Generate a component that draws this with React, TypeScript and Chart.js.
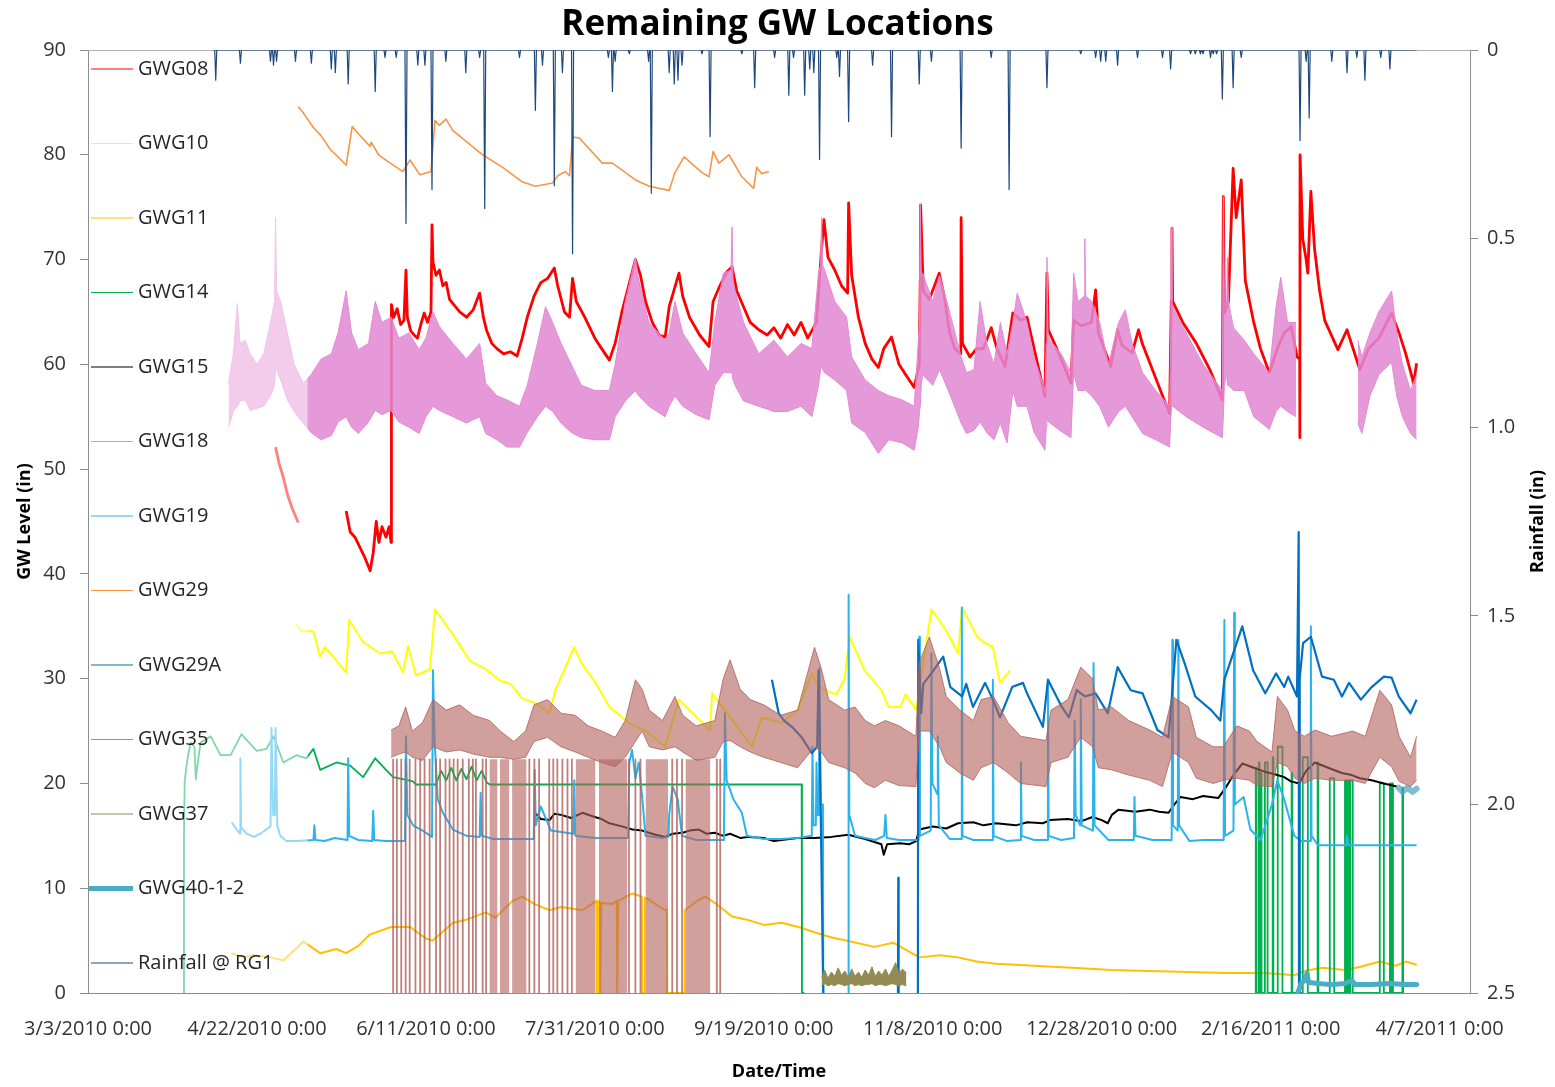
import React, { useEffect, useRef } from 'react';
import { Chart, registerables } from 'chart.js';

Chart.register(...registerables);

type Pt = [number, number | null];
type Band = [number, number | null, number | null];

const FONT = "'Open Sans', 'Liberation Sans', sans-serif";
const TITLE = 'Remaining GW Locations';
const Y_LEFT_TITLE = 'GW Level (in)';
const Y_RIGHT_TITLE = 'Rainfall (in)';
const X_TITLE = 'Date/Time';

// x values are days since 3/3/2010 0:00
const X_TICK_LABELS = [
  '3/3/2010 0:00', '4/22/2010 0:00', '6/11/2010 0:00', '7/31/2010 0:00', '9/19/2010 0:00',
  '11/8/2010 0:00', '12/28/2010 0:00', '2/16/2011 0:00', '4/7/2011 0:00',
];
const X_TICK_STEP_DAYS = 50;
const X_MAX_DAY = 409;
const Y_LEFT_MAX = 90;
const Y_LEFT_STEP = 10;
const Y_RIGHT_MAX = 2.5;
const Y_RIGHT_STEP = 0.5;

const SERIES_NAMES = [
  'GWG08', 'GWG10', 'GWG11', 'GWG14', 'GWG15', 'GWG18', 'GWG19',
  'GWG29', 'GWG29A', 'GWG35', 'GWG37', 'GWG40-1-2', 'Rainfall @ RG1',
];
const SERIES_COLORS = [
  '#FF0000', '#FFFF00', '#FFC000', '#00B050', '#000000', '#E48AD4', '#2DB3EC',
  '#F79646', '#0070C0', '#B5848C', '#948A54', '#4BACC6', '#1F497D',
];
const SERIES_WIDTHS = [1.2, 1.2, 1.2, 1.2, 1.2, 1.2, 1.2, 1.2, 1.2, 1.2, 1.2, 5, 1.2];

const GWG08: Pt[] = [
  [55.5, 52.1], [56.5, 50.6], [57.8, 49.2], [59, 47.6], [60.5, 46.2], [62.2, 44.9], [63, null],
  [76.4, 46], [77.6, 44], [79, 43.5], [80.5, 42.5], [82, 41.5], [83.5, 40.3], [84.4, 42], [85.3, 45], [86.1, 43],
  [87, 44.5], [88.2, 43.5], [89.1, 44.5], [89.7, 43], [89.8, 65.7], [90.5, 64.5], [91.5, 65.3], [92.5, 63.8],
  [93.5, 64.2], [94.1, 69], [94.5, 64.5], [95.5, 63.2], [96.5, 62.8], [97.5, 62.5], [98.5, 63.8], [99.5, 64.9],
  [100.5, 64], [101.5, 65], [101.8, 73.3], [102.1, 69.7], [103, 68.5], [104, 69], [105, 67.5], [106, 67.8],
  [107, 66.2], [108, 65.8], [110, 65], [112, 64.5], [114, 65.2], [115.9, 66.8], [117, 64.5], [118, 63.2],
  [119.5, 62], [121, 61.5], [123, 61], [125, 61.2], [127, 60.8], [128.5, 62.5], [130, 64.5], [132, 66.5],
  [134, 67.8], [136, 68.2], [138, 69.2], [139, 67.5], [141, 65], [142.5, 64.5], [143.4, 68.2], [144.5, 66],
  [147, 64.5], [150, 62.5], [152, 61.5], [154.3, 60.4], [156, 62], [158, 65], [160, 67.5], [162, 70],
  [163.5, 68.5], [165, 66], [167, 64], [169, 62.8], [170.8, 62.6], [172, 65.5], [174.9, 68.7], [176, 66.5],
  [178, 64.5], [181, 62.8], [183.8, 61.7], [185, 66], [187, 67.5], [189, 68.8], [190.6, 69.3], [192, 67],
  [194, 65.5], [196, 64], [198.5, 63.3], [201, 62.8], [203, 63.5], [205, 62.5], [207, 63.8], [209, 62.8],
  [211, 64], [213, 62.5], [215.6, 64], [217, 70.6], [217.8, 73.8], [219, 70.2], [221, 69], [223, 67.5],
  [224.8, 66.8], [225.1, 75.4], [226, 68.5], [228, 64.5], [230, 62], [232, 60.5], [233.9, 59.7], [235.5, 61.5],
  [237.8, 62.6], [240, 60], [242, 59], [244.5, 57.8], [246, 60], [246.3, 68], [246.4, 75.2], [247.2, 67],
  [249, 66.2], [251.9, 68.7], [253.4, 66.5], [255, 63], [256.5, 61.5], [258.3, 61], [258.4, 74], [258.8, 62],
  [261, 60.7], [263, 61.5], [265, 61.5], [267.3, 63.5], [269, 61.5], [271.4, 59.8], [273.7, 64.9], [276, 64.2],
  [277.9, 64.5], [280, 61.5], [283.2, 56.9], [283.8, 68.7], [284.2, 63.3], [286, 62], [288, 60.5], [290.9, 58.2],
  [291.7, 64.2], [294, 63.7], [297, 64], [298.2, 67.1], [299, 63], [302.7, 59.8], [304.7, 63.3], [306, 61.8],
  [309, 61.1], [310.9, 63.3], [312, 62], [315, 59.5], [318, 57], [320.1, 55.3], [320.6, 66.1], [320.8, 73],
  [321, 66], [324, 64], [328, 62], [332, 59.5], [335.7, 56.6], [336, 76], [336.3, 64.9], [337.5, 66],
  [338.9, 78.7], [339.8, 74], [341.3, 77.6], [342.5, 68], [345, 64], [347, 61.5], [349.6, 59.2], [352, 61.5],
  [354, 63], [356.1, 63.6], [357.8, 60.7], [358.6, 60.5], [358.65, 53], [358.7, 80], [359.5, 72], [360.5, 70],
  [361, 68.7], [361.9, 76.5], [363, 71], [364.5, 67], [366, 64.2], [369.9, 61.4], [372.6, 63.3], [376.4, 59.5],
  [379, 61.5], [382, 62.5], [385.8, 64.9], [388, 63], [390, 61], [392.3, 58.2], [393.2, 60.1],
];

const GWG10: Pt[] = [
  [61.7, 35.2], [63, 34.6], [66.7, 34.5], [68.7, 32.1], [70, 33], [72.6, 32.1], [74, 31.5], [76.4, 30.6],
  [77.3, 35.6], [81.4, 33.5], [86.4, 32.4], [90, 32.6], [93.2, 30.6], [94.7, 33.1], [97.1, 30.3], [101.2, 30.9],
  [102.7, 36.6], [108, 34.2], [113, 31.7], [117.7, 30.9], [122, 29.8], [125, 29.5], [128.6, 28.1], [132.2, 27.7],
  [136.6, 26.7], [138.3, 28.9], [143.9, 33], [146, 31.5], [150.2, 29.6], [154.3, 27.3], [160, 25.8], [166.1, 24.8],
  [170.8, 23.5], [174.9, 28], [180.8, 26.1], [184.1, 25.1], [184.7, 28.6], [190.6, 26.1], [196.5, 23.5],
  [199.4, 26.3], [205.3, 25.8], [210, 27], [214.2, 30.5], [216, 29.5], [218, 28.9], [221.5, 28.5], [223.9, 30],
  [225.4, 34], [229.8, 30.8], [234.8, 28.9], [236.9, 27.3], [240.4, 27.3], [242, 28.5], [245.1, 27], [246.5, 30],
  [249.6, 36.6], [254, 34.6], [257.5, 32.4], [258.7, 36.8], [263.1, 34], [265, 33.5], [267.8, 33], [269.9, 29.6],
  [272.9, 30.8],
];

const GWG11: Pt[] = [
  [42.5, 3.8], [46, 3.4], [49, 3.6], [54, 3.4], [57.8, 3.1], [63.7, 4.9], [68.7, 3.8], [73.5, 4.2], [76.4, 3.8],
  [80, 4.5], [83.5, 5.6], [89.7, 6.3], [95.3, 6.3], [100, 5.2], [102, 5], [108, 6.7], [112, 7], [117.7, 7.7],
  [120.6, 7.2], [125.7, 8.8], [128.6, 9.2], [132, 8.5], [136.6, 7.9], [140, 8.2], [146.3, 7.9], [150.5, 8.8],
  [150.6, 0], [150.8, 0], [150.9, 8.8], [151.5, 8.7], [151.6, 0], [151.8, 0], [151.9, 8.6], [155.2, 8.5],
  [156.5, 8.8], [156.6, 0], [156.8, 0], [156.9, 8.8], [161.1, 9.5], [163.9, 9.2], [164, 0], [164.7, 0],
  [164.8, 9.1], [165.5, 9], [170.8, 7.9], [171.3, 8], [171.4, 0], [176.5, 0], [176.6, 7.9], [180.8, 8.9],
  [182.6, 9.2], [186, 8.5], [190.6, 7.3], [195, 7], [200, 6.5], [205.3, 6.7], [210.3, 6.3], [215, 5.8],
  [220.1, 5.3], [226, 4.9], [232.7, 4.4], [238.3, 4.8], [246, 3.4], [252, 3.6], [257.5, 3.4], [263, 3],
  [268.7, 2.8], [280, 2.6], [291.4, 2.4], [302.9, 2.2], [314, 2.1], [325.7, 2], [337, 1.9], [348.4, 1.9],
  [357.2, 1.7], [360, 2.1], [365.2, 2.4], [372, 2.2], [376.7, 2.5], [382.3, 3], [387, 2.6], [390, 3], [393.2, 2.7],
];

const GWG14: Pt[] = [
  [28.3, 0], [28.4, 15], [28.6, 20.2], [29.5, 22.5], [30.4, 23.9], [31.5, 23.5], [31.9, 20.4], [32.3, 21.5],
  [33.3, 23.9], [36.3, 24.5], [39.2, 22.7], [42.2, 22.7], [45.4, 24.7], [49.9, 23.1], [52.8, 23.3], [54.9, 24.5],
  [57.8, 22], [61.7, 22.7], [64.6, 22.4], [66.7, 23.3], [68.7, 21.3], [73.5, 22], [77.6, 21.7], [81.4, 20.6],
  [85, 22.4], [88.2, 21.3], [90.3, 20.6], [96.2, 20.2], [97, 19.9], [102, 19.9], [103, 19.9], [104.5, 21.2],
  [106, 20.3], [107.5, 21.5], [109, 20.3], [110.5, 21.4], [112, 20.4], [113.5, 21.6], [115, 20.3], [116.5, 21.2],
  [118, 20.1], [118.9, 19.9], [150, 19.9], [180, 19.9], [211.2, 19.9], [211.3, 0], [212, 0], [213, null],
];
// [start day, end day, level] periods of GWG14 readings after the gauge returned
const GWG14_PULSES: [number, number, number][] = [
  [345.6, 345.8, 21.5], [346.5, 346.7, 22], [347.1, 347.3, 21], [348.3, 349.1, 22], [350.6, 350.8, 22.5],
  [352.1, 353.5, 23.5], [356.2, 356.4, 21], [359.5, 361, 22.5], [363.9, 364.1, 22], [367.5, 368.8, 20.5],
  [372, 372.3, 20.3], [372.8, 373.1, 20.3], [373.6, 374.3, 20.3], [382.3, 383.5, 20], [385.3, 385.6, 20],
  [385.9, 386.2, 20], [389, 389.2, 19.6],
];

const GWG15: Pt[] = [
  [132.2, 17.2], [134, 16.6], [136.6, 16.5], [138, 17.1], [140, 17], [143, 16.7], [146.3, 17.2], [150, 16.8],
  [152, 16.6], [154.3, 16.2], [158, 15.9], [161.1, 15.6], [164, 15.5], [166, 15.3], [168, 15.1], [170.8, 14.9],
  [173, 15.2], [176, 15.3], [178, 15.5], [180.8, 15.6], [183, 15.2], [185.5, 15.3], [188, 15], [190, 15.2],
  [193, 14.8], [195.6, 14.9], [200, 14.8], [203, 14.5], [205.3, 14.6], [210, 14.8], [215, 14.8], [220, 14.9],
  [225, 15.1], [230, 14.7], [234.8, 14.2], [235.5, 13.2], [236.5, 14.2], [240.4, 14.3], [243, 14.2],
  [245.1, 14.5], [246, 15.6], [250, 15.9], [254, 15.7], [257.5, 16.2], [262, 16.3], [265, 16], [268.7, 16.2],
  [274.6, 16], [278, 16.3], [282.6, 16.2], [284.7, 16.5], [290, 16.6], [294, 16.4], [297.3, 16.8], [300, 16.5],
  [301.8, 16.2], [303, 17], [305, 17.5], [310, 17.3], [314.2, 17.5], [317, 17.3], [319.8, 17.2], [321.5, 18],
  [323.3, 18.7], [327, 18.5], [330, 18.8], [334.5, 18.6], [336.9, 19.7], [339, 20.8], [341.6, 21.9],
  [345, 21.5], [348.4, 21.1], [351, 20.9], [354, 20.6], [356, 20.2], [358.4, 20], [360.5, 21.2], [363.1, 22],
  [367, 21.5], [371.1, 21], [374, 20.8], [376.4, 20.5], [379.9, 20.3], [383.5, 20], [387.3, 19.7],
];

// [day, band top, band bottom]
const GWG18: Band[] = [
  [41.6, 58.2, 54], [43, 61, 55.5], [44.2, 65.8, 56], [45, 62, 56.5], [46.5, 62.3, 56.6], [48, 61, 55.6],
  [50, 60, 55.8], [52, 61, 56], [54, 64, 57], [55.2, 66, 58], [55.5, 74, 59.8], [55.8, 67, 59.5], [57, 66, 58.5],
  [59, 63, 56.6], [61, 60, 55.5], [63.7, 58.2, 54.4], [66, 59, 53.5], [69, 60.5, 52.8], [72, 61, 53.2],
  [74, 63, 54.5], [76.4, 67, 55], [78, 63, 54], [80, 61.4, 53.4], [83, 62, 54.5], [85, 66, 55.6], [87, 64, 55.2],
  [89.7, 64.5, 55.6], [92, 62.5, 54.5], [95, 63, 54], [98, 61.4, 53.4], [100, 62.5, 55], [102.1, 65, 56],
  [104, 63.6, 55.6], [108, 62, 55], [112, 60.5, 54.4], [115.9, 62, 55], [117.7, 58.2, 53.4], [121, 57, 52.8],
  [124, 56.6, 52.1], [127.7, 56, 52.1], [130, 58, 53.5], [133, 62, 55], [135.4, 65.5, 56], [137.5, 64, 55.5],
  [140, 62, 54.4], [143, 60, 53.5], [146, 58, 53], [150, 57.5, 52.8], [154.3, 57.5, 52.8], [156, 60, 55],
  [159, 66, 56.5], [162, 70.2, 57.5], [163, 68, 57], [166, 64, 56], [170.8, 62.3, 55], [172, 63, 56],
  [173.7, 66, 57], [176, 63, 56], [180, 61, 55.2], [183.8, 59.2, 54.7], [185.5, 64, 58], [188, 68.7, 59.2],
  [190.3, 69, 59.2], [190.6, 73.1, 59.2], [190.9, 68, 58.5], [191.5, 67, 58], [194, 64, 56.5], [198.5, 61, 56],
  [203, 62.3, 55.5], [207, 60.7, 55.5], [211, 62, 56], [214.2, 61.5, 55], [216.2, 68.7, 58], [216.8, 69.5, 59.5],
  [217.1, 74, 60], [217.4, 69.5, 59.5], [218, 69, 59.2], [221, 66, 58.5], [224.5, 64.5, 57.5], [226, 60.7, 54.4],
  [230, 58.5, 53.5], [233.9, 57.5, 51.5], [237, 57, 52.8], [241, 56.6, 52.5], [244.5, 56, 51.8], [245.7, 62, 54],
  [246.1, 64, 55.5], [246.3, 75.4, 56], [246.6, 68.7, 58], [247, 68.7, 59], [250, 66, 58], [252, 68.5, 59.5],
  [254.6, 65.5, 57.5], [258.4, 60.7, 54.4], [260, 59.2, 53.4], [262.2, 59.5, 53.7], [264, 66, 54.5],
  [266, 62, 53.5], [268.1, 60, 52.8], [270, 64, 54.4], [272, 61, 52.5], [273.7, 64, 57.5], [275, 66.8, 56],
  [277.9, 64, 56], [280, 60.7, 53.5], [283.2, 57.5, 51.8], [283.6, 62, 54], [283.8, 70.2, 55], [284.1, 63, 54.6],
  [284.7, 62.3, 54.4], [288, 61, 53.6], [290.9, 59.2, 53], [291.7, 68.7, 59.2], [293, 66, 57.5], [294.8, 66.5, 57.5],
  [295, 72, 58], [295.3, 66.5, 57.5], [297, 66, 57], [299.4, 64, 56], [302, 60, 54], [305, 64, 55.5],
  [307, 65.2, 56], [309, 62, 55], [312.1, 59.2, 53.4], [316, 57.5, 52.8], [320.1, 56, 52.1], [320.4, 62, 54.5],
  [320.6, 73.1, 56], [320.8, 66, 56], [321, 65.5, 56], [325, 63, 55], [330, 60, 54], [335.7, 57.5, 53],
  [336, 76, 55], [336.3, 66, 58], [337, 65.5, 59.2], [337.2, 70.2, 58], [337.5, 66, 58], [339, 63.5, 57.5],
  [342.2, 62.3, 57.5], [345, 61, 55], [349.6, 59.2, 53.8], [351.6, 65.5, 55.5], [353, 68.3, 56], [355, 64, 55.5],
  [357.5, 64, 55], [358, null, null],
  [375.8, 62.3, 54.4], [377, 60.7, 53.4], [379.4, 63, 57], [382, 65, 59], [385.8, 67, 60.2], [387.3, 63, 57],
  [389, 60, 55], [391.4, 57.5, 53.4], [393.2, 59, 52.8],
];

const GWG19: Pt[] = [
  [42.5, 16.3], [44, 15.6], [45, 15.2], [45.1, 22.4], [45.3, 15.8], [47, 15.2], [49, 14.9], [51, 15.2], [54, 15.9],
  [54.3, 25.3], [54.8, 17], [55.3, 17], [55.5, 25.3], [56, 16], [56.9, 15], [58.7, 14.5], [61.7, 14.5],
  [66.7, 14.6], [67, 16], [67.3, 14.6], [70, 14.5], [73, 14.8], [76.8, 14.6], [77, 22.4], [77.3, 15], [80, 14.6],
  [84.1, 14.5], [84.4, 17.4], [84.7, 14.6], [88, 14.5], [93.8, 14.5], [94.1, 24.5], [94.5, 17], [96.2, 16],
  [99, 15.5], [101.8, 14.9], [102.1, 30.8], [102.6, 23.9], [103.5, 18.5], [105, 17.2], [108, 15.6], [112, 15],
  [115.9, 14.9], [116.2, 19.1], [116.5, 15], [120, 14.7], [125, 14.7], [131.9, 14.7], [132.2, 21.3], [132.5, 16],
  [134, 17.8], [137, 15.5], [143.6, 15.2], [143.9, 20.3], [144.2, 15], [150, 14.8], [155, 14.8], [159.8, 14.8],
  [160.2, 22], [161, 23.2], [162, 20.5], [163, 22], [164, 18.7], [165, 15], [170, 14.8], [171.8, 14.9], [172, 17],
  [173, 19.7], [174.5, 18.5], [175.8, 15], [180, 14.6], [188.2, 14.6], [188.5, 26.7], [189, 20.3], [191, 18.5],
  [193.5, 17.2], [195, 15], [200, 14.7], [205, 14.7], [210, 14.8], [214.2, 15], [214.4, 23.5], [214.7, 16],
  [215.4, 16], [215.6, 22], [215.9, 17], [216.3, 17], [216.5, 31], [216.8, 18], [217.5, 18], [217.6, 0],
  [217.7, null], [225, 0], [225.1, 38], [225.3, 17], [227, 15], [230, 14.8], [233, 14.6], [235.6, 15], [236, 17],
  [236.4, 14.8], [240, 14.6], [245.8, 14.6], [246, 34], [246.2, 15], [249.4, 15.5], [249.6, 32.4], [249.9, 20],
  [251.3, 19], [251.5, 24.5], [251.8, 16], [255, 14.7], [258.4, 14.7], [258.6, 36.8], [258.8, 15], [262, 14.6],
  [267.6, 14.6], [267.8, 29.9], [268, 15], [272, 14.5], [275.9, 14.6], [276.1, 22], [276.3, 15], [280, 14.6],
  [283.9, 14.6], [284.1, 29.9], [284.3, 15], [288, 14.6], [291.8, 14.8], [292, 26], [292.3, 17], [293.6, 16],
  [293.8, 28], [294.1, 16], [297.4, 15.5], [297.6, 31.5], [297.9, 16], [302, 14.6], [309.5, 14.6], [309.7, 18.7],
  [310, 15], [315, 14.6], [320.7, 14.6], [320.9, 33.7], [321.1, 16], [322.5, 15.5], [322.7, 33.7], [322.9, 16],
  [326, 14.5], [330, 14.6], [336.1, 14.6], [336.3, 35.6], [336.5, 15], [339, 15.5], [339.2, 36.3], [339.4, 18],
  [342, 18.7], [344, 15.6], [347, 14.6], [350.4, 18], [352, 20.3], [354, 18.5], [357, 15], [359, 14.5],
  [361.7, 14.5], [361.9, 35], [362.1, 15], [364, 14.1], [370, 14.1], [372.4, 14.1], [372.6, 15], [373, 14.1],
  [380, 14.1], [393.2, 14.1],
];

const GWG29: Pt[] = [
  [62.2, 84.6], [63.7, 84], [66.7, 82.6], [69, 81.8], [71.7, 80.5], [74, 79.8], [76.4, 79], [78.2, 82.7],
  [80, 82], [83.5, 80.8], [83.8, 81.2], [86, 80], [89, 79.3], [93.2, 78.4], [95.3, 79.5], [98.2, 78.1],
  [101.5, 78.4], [102.7, 83.3], [104, 82.8], [105.9, 83.4], [108, 82.3], [113, 81], [116.8, 80], [122.7, 78.8],
  [128.6, 77.4], [132.4, 77], [137.5, 77.3], [139, 78], [141.3, 78.4], [142.5, 78], [143.4, 81.7], [145.4, 81.6],
  [152.2, 79.2], [155.2, 79.2], [162, 77.6], [166.1, 77], [172, 76.6], [173.7, 78.3], [176.4, 79.8], [181.7, 78.3],
  [183.8, 77.9], [185, 80.3], [186.7, 79.2], [189.7, 80], [193.5, 77.9], [197, 76.8], [197.9, 78.8], [199.4, 78.2],
  [201.5, 78.4],
];

const GWG29A: Pt[] = [
  [202.4, 29.9], [204.4, 26.7], [206, 26], [208.3, 25.4], [211.2, 24.4], [214.2, 22.9], [215.8, 23.5], [216.2, 30.8],
  [216.6, 23], [217.6, 0], [217.7, null], [239.7, 0], [239.8, 11], [239.9, 0], [240, null], [245.6, 0],
  [245.7, 33.7], [246.6, 26.7], [247.2, 29.5],
  [249.6, 30.5], [253.1, 32.1], [255.2, 29.2], [258.7, 28.3], [259.9, 29.5], [261.9, 27.3], [265.5, 29.6],
  [267.8, 28], [269.9, 26.3], [273.5, 29.2], [276.7, 29.6], [277.9, 28.6], [282.6, 25.4], [284.1, 29.9],
  [288.2, 27.3], [290.3, 26.3], [292.6, 28.9], [295, 28.3], [298.2, 28.6], [301.8, 26.7], [304.7, 31.1],
  [308.6, 28.9], [312.1, 28.6], [316.5, 25.1], [319.8, 24.4], [322.1, 33.7], [324.5, 31.5], [327.7, 28.3],
  [332.4, 27], [335.1, 26], [336.3, 29.9], [341.6, 35], [344.8, 30.8], [348.4, 28.6], [351.6, 30.5], [354, 29.2],
  [355.2, 30.2], [357.8, 28.3], [358.3, 44], [358.4, 0], [358.6, 30], [359.6, 33.4], [361.9, 34], [365.2, 30.2],
  [368.7, 29.9], [371.1, 28.3], [373.2, 29.6], [376.7, 28], [379.9, 29.2], [383.5, 30.2], [385.8, 30.1],
  [387.9, 28.3], [391.4, 26.7], [393.2, 28],
];

// [day, band top, band bottom]
const GWG35: Band[] = [
  [89.7, 25.1, 22.5], [92, 25.5, 22.8], [94, 27.3, 23], [96, 25, 22.5], [99, 25.8, 22.2], [102.1, 28, 23.5],
  [106, 27, 23], [110, 27.5, 23.2], [114, 26.5, 22.8], [118.9, 26, 22.5], [122, 25, 22.5], [126, 24, 22.3],
  [129.5, 25, 22.5], [132, 27.5, 24], [136, 28, 24.4], [140, 26.7, 23.5], [144.2, 26.5, 23], [148, 25.5, 22.5],
  [152, 25, 22], [156, 24.4, 21.6], [159, 26, 22.5], [162, 29.9, 24], [164, 29, 25], [166.1, 27, 23.5],
  [170, 26, 23.2], [173.7, 28.3, 23.5], [176, 26.5, 23], [180, 25.5, 22.2], [185.5, 26, 22.5], [188, 30, 24],
  [190, 31.8, 24.1], [193, 29, 23.5], [196, 28, 23], [200, 27.5, 22.5], [205, 26.5, 22], [210, 27, 21.5],
  [215, 33, 23.5], [217, 31, 23], [219.2, 28, 22], [223.9, 27, 21.5], [227, 27.3, 21], [230, 26, 20],
  [232.7, 25.5, 19.6], [236, 26, 20.3], [240, 25.5, 19.8], [245, 24.5, 19.7], [246, 31.5, 25], [249, 34, 25],
  [252, 31, 23.5], [254, 28.3, 22], [258, 27, 21], [262, 26, 20.3], [264.3, 28, 21.5], [268, 28.3, 22],
  [272.3, 25.8, 21], [276, 24.5, 20], [283.5, 24.1, 19.7], [285, 27, 22], [290, 28, 22.5], [293.8, 31.1, 24.4],
  [297.3, 30, 23.5], [299, 27, 21.5], [302.9, 27.3, 21.3], [308, 26, 20.8], [314.2, 25.1, 20.3],
  [318, 24.4, 19.7], [320.9, 28.3, 23], [325.7, 27.3, 22], [328, 24.4, 20.5], [333, 23.5, 20], [336, 23.5, 20.3],
  [340, 25.5, 20.5], [343.7, 25, 20.3], [346, 24, 19.8], [350.4, 23, 19.7], [352, 28.3, 22], [355, 27, 21.6],
  [357.2, 25, 20.5], [360, 24.5, 20], [363.1, 25.1, 20.5], [368, 24.5, 20.3], [374.3, 25, 20.3], [378, 24.5, 20],
  [382.3, 28.9, 22.5], [385.8, 27.5, 21.6], [388, 24.5, 20.2], [391.4, 22.5, 19.7], [393.2, 24.5, 20.3],
];
// days on which GWG35 read 0 (single readings) and [start, end] stretches of repeated 0 readings
const GWG35_ZERO_DAYS = [
  90.3, 91.4, 92.7, 94, 95.2, 96.9, 98.3, 99.6, 101.1, 103, 104.2, 105.8, 107, 108.2, 109.4, 110.9, 112.7,
  113.9, 114.8, 116.8, 117.8, 130.6, 132.1, 133.5, 136.5, 137.7, 138.9, 140.4, 141.9, 143.2, 160.1, 162,
  163.5, 172.9, 174.3, 175.8, 186.1, 187.1,
];
const GWG35_ZERO_STRETCHES: [number, number][] = [
  [118.8, 121.2], [121.9, 124.7], [125.5, 129.8], [144.3, 150.2], [151.2, 159.6], [165, 171.7], [176.8, 184.2],
];
const GWG35_ZERO_TOP = 22.3;

const GWG37: Band[] = [
  [217.1, 1.5, 0.7], [218, 2.2, 0.9], [219, 1.4, 0.7], [220, 2, 0.8], [221, 1.6, 0.7], [222, 2.4, 0.9],
  [223, 1.7, 0.8], [224, 2.1, 0.7], [225, 1.5, 0.8], [226, 2.3, 0.9], [227, 1.6, 0.7], [228, 2, 0.8],
  [229, 1.5, 0.7], [230, 2.2, 0.8], [231, 1.7, 0.8], [232, 2.5, 0.9], [233, 1.6, 0.7], [234, 2.1, 0.8],
  [235, 1.7, 0.8], [236, 2.3, 0.7], [237, 1.6, 0.8], [238, 2.2, 0.9], [239, 2.9, 0.8], [240, 1.8, 0.7],
  [241, 2.3, 0.8], [242.2, 1.9, 0.7],
];

const GWG40: Pt[] = [
  [357.8, -0.2], [359, 0.9], [360, 1.2], [360.8, 1.9], [361.2, 1], [364, 0.9], [368, 0.8], [372, 0.9],
  [374, 1.2], [375, 0.8], [380, 0.8], [385, 0.9], [390, 0.8], [393.2, 0.8],
];
const GWG40_UPPER: Pt[] = [[387.9, 19.6], [389, 19.2], [390.5, 19.6], [392, 19.2], [393.2, 19.5]];

// [day, inches] rainfall events at RG1
const RAIN_START_DAY = 37;
const RAIN_END_DAY = 393.2;
const RAINFALL: [number, number][] = [
  [37.8, 0.08], [45.1, 0.035], [54, 0.03], [54.9, 0.04], [55.8, 0.03], [61.4, 0.03], [66.1, 0.035], [72, 0.05],
  [73.2, 0.06], [77, 0.09], [85, 0.11], [87.9, 0.02], [91.2, 0.02], [94.1, 0.46], [97.6, 0.04], [99.7, 0.04],
  [101.8, 0.37], [105.9, 0.03], [111.8, 0.06], [115.9, 0.02], [117.4, 0.42], [127.7, 0.02], [132.4, 0.16],
  [134.5, 0.04], [138, 0.36], [140.4, 0.06], [143.4, 0.54], [154, 0.02], [155.2, 0.11], [156, 0.03],
  [160.2, 0.01], [165.9, 0.03], [166.7, 0.38], [172, 0.06], [173.5, 0.09], [174.6, 0.08], [175.8, 0.04],
  [181.7, 0.01], [184.1, 0.23], [193.5, 0.01], [197.3, 0.1], [203.2, 0.02], [207.4, 0.12], [208.8, 0.02],
  [212.1, 0.12], [213.6, 0.05], [214.8, 0.06], [216.5, 0.29], [221.6, 0.02], [222.4, 0.07], [225.1, 0.19],
  [232.2, 0.04], [237.8, 0.23], [246, 0.09], [249.6, 0.03], [258.4, 0.26], [267.3, 0.02], [272.6, 0.37],
  [283.8, 0.1], [293.8, 0.01], [298.2, 0.02], [299.7, 0.03], [301.2, 0.03], [304.7, 0.04], [310.6, 0.02],
  [318, 0.02], [320.4, 0.05], [326.3, 0.01], [327.7, 0.01], [329.2, 0.01], [330, 0.01], [332.2, 0.02],
  [333, 0.01], [334, 0.01], [335.7, 0.13], [338.9, 0.1], [341.3, 0.02], [358.7, 0.24], [360.5, 0.03],
  [361.4, 0.18], [368.1, 0.03], [372.6, 0.06], [375.5, 0.02], [377.9, 0.08], [382.6, 0.02], [385.3, 0.05],
];

// early part of the record appears washed out in the source image
const FADE_DAYS: [number, number] = [26.5, 65];
const FADE_TOP_LEVEL = 76;

const AXIS_COLOR = '#8C8C8C';
const TEXT_COLOR = '#333333';
const GWG35_LINE = 'rgba(175,95,90,0.8)';
const GWG35_FILL = 'rgba(180,100,95,0.62)';

type XY = { x: number; y: number | null };
const xy = (arr: Pt[]): XY[] => arr.map(([x, y]) => ({ x, y }));
const bandTop = (arr: Band[]): XY[] => arr.map(([x, t]) => ({ x, y: t }));
const bandBottom = (arr: Band[]): XY[] => arr.map(([x, , b]) => ({ x, y: b }));

function buildGwg14(): XY[] {
  const out = xy(GWG14);
  GWG14_PULSES.forEach(([s, e, lvl]) => {
    out.push({ x: s, y: 0 }, { x: s, y: lvl }, { x: e, y: lvl }, { x: e, y: 0 });
  });
  return out;
}
function buildZeroStretches(): XY[] {
  const out: XY[] = [];
  GWG35_ZERO_STRETCHES.forEach(([s, e]) => {
    out.push({ x: s, y: 0 }, { x: s, y: GWG35_ZERO_TOP }, { x: e, y: GWG35_ZERO_TOP }, { x: e, y: 0 }, { x: e + 0.01, y: null });
  });
  return out;
}
function buildZeroDays(): XY[] {
  const out: XY[] = [];
  GWG35_ZERO_DAYS.forEach((d) => {
    out.push({ x: d, y: GWG35_ZERO_TOP }, { x: d, y: 0 }, { x: d + 0.01, y: null });
  });
  return out;
}
function buildRain(): XY[] {
  const out: XY[] = [{ x: RAIN_START_DAY, y: 0 }];
  RAINFALL.forEach(([d, v]) => {
    out.push({ x: d - 0.3, y: 0 }, { x: d, y: v }, { x: d + 0.3, y: 0 });
  });
  out.push({ x: RAIN_END_DAY, y: 0 });
  return out;
}

function lineDs(label: string, data: XY[], color: string, width: number, extra: Record<string, unknown> = {}) {
  return {
    type: 'line' as const,
    label,
    data,
    borderColor: color,
    backgroundColor: color,
    borderWidth: width,
    pointRadius: 0,
    pointHoverRadius: 0,
    tension: 0,
    fill: false,
    spanGaps: false,
    borderJoinStyle: 'round' as const,
    yAxisID: 'y',
    ...extra,
  };
}

const decorPlugin = {
  id: 'gwDecor',
  beforeDatasetsDraw(chart: any) {
    const { ctx, chartArea: a } = chart;
    ctx.save();
    ctx.strokeStyle = '#B0B0B0';
    ctx.lineWidth = 1;
    ctx.beginPath();
    ctx.moveTo(a.left, a.top + 0.5);
    ctx.lineTo(a.right, a.top + 0.5);
    ctx.stroke();
    ctx.restore();
  },
  afterDatasetsDraw(chart: any) {
    const { ctx, chartArea: a, scales } = chart;
    ctx.save();
    const x0 = scales.x.getPixelForValue(FADE_DAYS[0]);
    const x1 = scales.x.getPixelForValue(FADE_DAYS[1]);
    const yTop = scales.y.getPixelForValue(FADE_TOP_LEVEL);
    ctx.fillStyle = 'rgba(255,255,255,0.5)';
    ctx.fillRect(x0, yTop, x1 - x0, a.bottom - yTop);

    ctx.font = `20px ${FONT}`;
    ctx.textBaseline = 'middle';
    ctx.textAlign = 'left';
    SERIES_NAMES.forEach((name, i) => {
      const y = a.top + 19 + i * 74.5;
      ctx.strokeStyle = SERIES_COLORS[i];
      ctx.lineWidth = SERIES_WIDTHS[i];
      ctx.beginPath();
      ctx.moveTo(a.left + (SERIES_WIDTHS[i] > 2 ? 1 : 3), y);
      ctx.lineTo(a.left + 45, y);
      ctx.stroke();
      ctx.fillStyle = '#262626';
      ctx.fillText(name, a.left + 50, y);
    });

    ctx.translate(chart.width - 17, (a.top + a.bottom) / 2);
    ctx.rotate(-Math.PI / 2);
    ctx.textAlign = 'center';
    ctx.font = `bold 18px ${FONT}`;
    ctx.fillStyle = '#000';
    ctx.fillText(Y_RIGHT_TITLE, 0, 0);
    ctx.restore();
  },
};

export default function App() {
  const ref = useRef<HTMLCanvasElement>(null);

  useEffect(() => {
    if (!ref.current) return;
    Chart.defaults.font.family = FONT;
    Chart.defaults.color = TEXT_COLOR;

    const c = SERIES_COLORS;
    const datasets: any[] = [
      lineDs(SERIES_NAMES[0], xy(GWG08), c[0], 2.8),
      lineDs(SERIES_NAMES[1], xy(GWG10), c[1], 2),
      lineDs(SERIES_NAMES[2], xy(GWG11), c[2], 2),
      lineDs(SERIES_NAMES[3], buildGwg14(), c[3], 1.8),
      lineDs(SERIES_NAMES[4], xy(GWG15), c[4], 2),
      lineDs(SERIES_NAMES[5] + ' low', bandBottom(GWG18), c[5], 1),
      lineDs(SERIES_NAMES[5], bandTop(GWG18), c[5], 1, { fill: '-1', backgroundColor: 'rgba(226,135,210,0.85)' }),
      lineDs(SERIES_NAMES[6], xy(GWG19), c[6], 2),
      lineDs(SERIES_NAMES[7], xy(GWG29), c[7], 1.6),
      lineDs(SERIES_NAMES[8], xy(GWG29A), c[8], 2.2),
      lineDs(SERIES_NAMES[9] + ' low', bandBottom(GWG35), GWG35_LINE, 1),
      lineDs(SERIES_NAMES[9], bandTop(GWG35), GWG35_LINE, 1, { fill: '-1', backgroundColor: GWG35_FILL }),
      lineDs(SERIES_NAMES[9] + ' zeros', buildZeroStretches(), 'rgba(0,0,0,0)', 0, { fill: 'origin', backgroundColor: GWG35_FILL }),
      lineDs(SERIES_NAMES[9] + ' zero days', buildZeroDays(), GWG35_LINE, 1.8),
      lineDs(SERIES_NAMES[10] + ' low', bandBottom(GWG37), c[10], 1),
      lineDs(SERIES_NAMES[10], bandTop(GWG37), c[10], 1, { fill: '-1', backgroundColor: c[10] }),
      lineDs(SERIES_NAMES[11], xy(GWG40), c[11], 5, { borderCapStyle: 'round' }),
      lineDs(SERIES_NAMES[11] + ' b', xy(GWG40_UPPER), 'rgba(75,160,195,0.7)', 6, { borderCapStyle: 'round' }),
      lineDs(SERIES_NAMES[12], buildRain(), c[12], 1.2, { yAxisID: 'y1' }),
    ];
    datasets.forEach((d, i) => { d.order = 100 - i; });

    const chart = new Chart(ref.current, {
      type: 'line',
      data: { datasets },
      plugins: [decorPlugin],
      options: {
        animation: false,
        responsive: true,
        maintainAspectRatio: false,
        events: [],
        layout: { padding: 0 },
        plugins: {
          legend: { display: false },
          tooltip: { enabled: false },
          title: {
            display: true,
            text: TITLE,
            color: '#000',
            font: { size: 35, weight: 'bold', family: FONT },
            padding: { top: 4, bottom: 4 },
          },
        },
        scales: {
          x: {
            type: 'linear',
            min: 0,
            max: X_MAX_DAY,
            offset: false,
            grid: { display: false, drawTicks: false, offset: false },
            border: { display: true, color: AXIS_COLOR },
            ticks: {
              stepSize: X_TICK_STEP_DAYS,
              includeBounds: false,
              autoSkip: false,
              maxRotation: 0,
              padding: 24,
              color: TEXT_COLOR,
              font: { size: 20, family: FONT },
              callback: (v: any) => X_TICK_LABELS[Math.round(Number(v) / X_TICK_STEP_DAYS)] ?? '',
            },
            title: {
              display: true,
              text: X_TITLE,
              color: '#000',
              font: { size: 18, weight: 'bold', family: FONT },
              padding: { top: 0, bottom: 4 },
            },
            afterFit: (s: any) => { s.height = 94; },
          },
          y: {
            type: 'linear',
            position: 'left',
            min: 0,
            max: Y_LEFT_MAX,
            grid: { drawOnChartArea: false, drawTicks: true, tickLength: 8, color: AXIS_COLOR },
            border: { display: true, color: AXIS_COLOR },
            ticks: { stepSize: Y_LEFT_STEP, padding: 14, color: TEXT_COLOR, font: { size: 20, family: FONT } },
            title: {
              display: true,
              text: Y_LEFT_TITLE,
              color: '#000',
              font: { size: 18, weight: 'bold', family: FONT },
              padding: { top: 11, bottom: 0 },
            },
            afterFit: (s: any) => { s.width = 85; },
          },
          y1: {
            type: 'linear',
            position: 'right',
            reverse: true,
            min: 0,
            max: Y_RIGHT_MAX,
            grid: { drawOnChartArea: false, drawTicks: true, tickLength: 8, color: AXIS_COLOR },
            border: { display: true, color: AXIS_COLOR },
            ticks: { stepSize: Y_RIGHT_STEP, padding: 9, color: TEXT_COLOR, font: { size: 20, family: FONT } },
            title: { display: false },
            afterFit: (s: any) => { s.width = 85; },
          },
        },
      } as any,
    });
    return () => chart.destroy();
  }, []);

  return (
    <div style={{ position: 'fixed', left: 0, top: 0, width: 1555, height: 1087, background: '#fff' }}>
      <canvas ref={ref} />
    </div>
  );
}
